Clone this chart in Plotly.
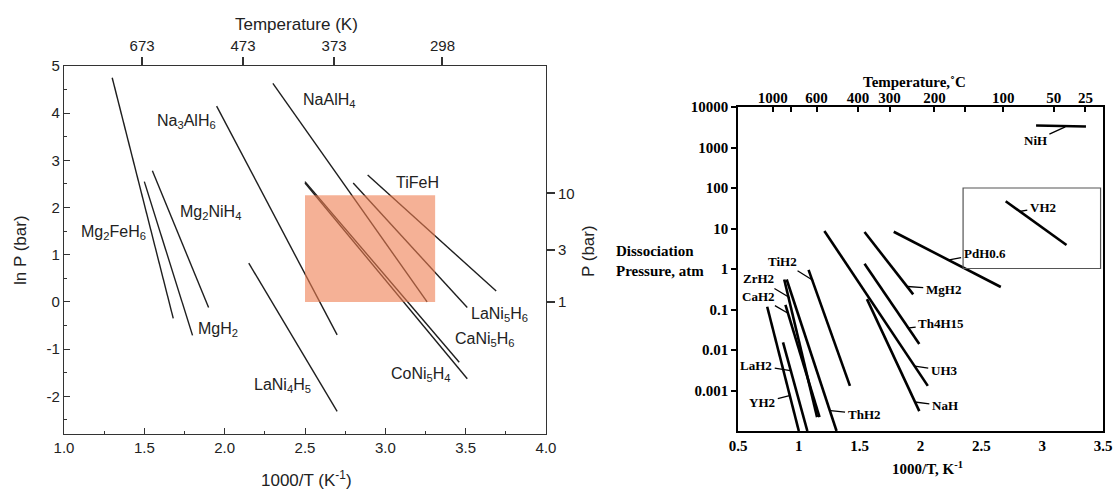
import numpy as np
import plotly.graph_objects as go

# ---------------- Left panel data: ln P (bar) vs 1000/T ----------------
left_names = ["Mg<sub>2</sub>FeH<sub>6</sub>", "MgH<sub>2</sub>", "Mg<sub>2</sub>NiH<sub>4</sub>",
              "Na<sub>3</sub>AlH<sub>6</sub>", "LaNi<sub>4</sub>H<sub>5</sub>", "NaAlH<sub>4</sub>",
              "CaNi<sub>5</sub>H<sub>6</sub>", "CoNi<sub>5</sub>H<sub>4</sub>", "LaNi<sub>5</sub>H<sub>6</sub>", "TiFeH"]
left_x_start = [1.30, 1.50, 1.55, 1.95, 2.15, 2.30, 2.50, 2.50, 2.80, 2.89]
left_y_start = [4.75, 2.55, 2.78, 4.15, 0.82, 4.63, 2.55, 2.52, 2.52, 2.69]
left_x_end = [1.68, 1.80, 1.90, 2.70, 2.70, 3.26, 3.46, 3.51, 3.51, 3.69]
left_y_end = [-0.35, -0.71, -0.12, -0.70, -2.32, 0.00, -1.28, -1.63, -0.12, 0.23]
# label positions (same order as names)
left_label_x = [1.31, 1.96, 1.91, 1.76, 2.36, 2.65, 3.62, 3.22, 3.71, 3.20]
left_label_y = [1.47, -0.58, 1.89, 3.83, -1.78, 4.26, -0.79, -1.53, -0.26, 2.54]
window_x = [2.50, 3.31]      # target operating window (1000/T)
window_y = [0.00, 2.26]      # ln P (1 - 10 bar)
left_top_temps = [673, 473, 373, 298]          # K
left_right_pressures = [1, 3, 10]              # bar
left_yticks = [5, 4, 3, 2, 1, 0, -1, -2]
left_xticks = [1.0, 1.5, 2.0, 2.5, 3.0, 3.5, 4.0]

# ---------------- Right panel data: dissociation pressure (atm) vs 1000/T ----------------
right_names = ["NiH", "VH2", "PdH0.6", "UH3", "MgH2", "Th4H15", "NaH", "TiH2",
               "ZrH2", "CaH2", "ThH2", "LaH2", "YH2"]
right_x_start = [2.95, 2.70, 1.78, 1.21, 1.54, 1.54, 1.56, 1.08, 0.88, 0.89, 0.90, 0.87, 0.74]
right_p_start = [3500, 47, 8.3, 8.7, 8.2, 1.34, 0.18, 0.95, 0.55, 0.13, 0.55, 0.0155, 0.117]
right_x_end = [3.36, 3.20, 2.66, 2.06, 1.94, 1.99, 1.99, 1.42, 1.15, 1.17, 1.31, 1.07, 1.00]
right_p_end = [3300, 3.9, 0.36, 0.0013, 0.236, 0.014, 0.00031, 0.0013, 0.00022, 0.00022, 0.0001, 0.0001, 0.0001]
# label text position and leader tip (x, P)
right_label_x = [2.945, 3.005, 2.527, 2.195, 2.187, 2.17, 2.20, 0.863, 0.67, 0.67, 1.536, 0.65, 0.70]
right_label_p = [1480, 33.5, 2.44, 0.0031, 0.316, 0.0447, 0.00042, 1.55, 0.569, 0.214, 0.00026, 0.0042, 0.0005]
right_tip_x = [3.19, 2.813, 2.236, 1.953, 1.893, 1.907, 1.953, 1.118, 0.926, 0.904, 1.261, 0.931, 0.931]
right_tip_p = [3240, 26.3, 1.68, 0.004, 0.37, 0.035, 0.00052, 0.52, 0.195, 0.083, 0.00032, 0.0031, 0.00076]
inset_x = [2.35, 3.48]
inset_p = [1.03, 100]
right_top_temps_c = [1000, 600, 400, 300, 200, 100, 50, 25]
right_top_minor_c = [800, 150]
right_yticks = [10000, 1000, 100, 10, 1, 0.1, 0.01, 0.001]
right_ytick_text = ["10000", "1000", "100", "10", "1", "0.1", "0.01", "0.001"]
right_xticks = [0.5, 1, 1.5, 2, 2.5, 3, 3.5]

# ---------------- Figure ----------------
W, H = 1117, 492
def px_x(p):
    return p / W
def px_y(p):
    return 1 - p / H

sans = "Liberation Sans, Arial, sans-serif"
serif = "Liberation Serif, Times New Roman, serif"

fig = go.Figure()

for i in range(len(left_names)):
    fig.add_trace(go.Scatter(
        x=[left_x_start[i], left_x_end[i]], y=[left_y_start[i], left_y_end[i]],
        mode="lines", line=dict(color="#1e1e1e", width=1.4),
        xaxis="x", yaxis="y", showlegend=False, hoverinfo="skip"))

# operating window (semi-transparent)
fig.add_trace(go.Scatter(
    x=[window_x[0], window_x[1], window_x[1], window_x[0], window_x[0]],
    y=[window_y[0], window_y[0], window_y[1], window_y[1], window_y[0]],
    mode="lines", fill="toself", line=dict(width=0),
    fillcolor="rgba(238,125,80,0.6)",
    xaxis="x", yaxis="y", showlegend=False, hoverinfo="skip"))

# invisible traces so the secondary (top / right) axes are drawn
fig.add_trace(go.Scatter(x=[1, 4], y=[-2.8, 5], mode="markers", marker=dict(opacity=0),
                         xaxis="x2", yaxis="y2", showlegend=False, hoverinfo="skip"))

for i in range(len(right_names)):
    fig.add_trace(go.Scatter(
        x=[right_x_start[i], right_x_end[i]], y=[right_p_start[i], right_p_end[i]],
        mode="lines", line=dict(color="black", width=2.6),
        xaxis="x3", yaxis="y3", showlegend=False, hoverinfo="skip"))

# inset box
fig.add_trace(go.Scatter(
    x=[inset_x[0], inset_x[1], inset_x[1], inset_x[0], inset_x[0]],
    y=[inset_p[0], inset_p[0], inset_p[1], inset_p[1], inset_p[0]],
    mode="lines", line=dict(color="#555", width=1.2),
    xaxis="x3", yaxis="y3", showlegend=False, hoverinfo="skip"))

fig.add_trace(go.Scatter(x=[0.5, 3.5], y=[1, 1], mode="markers", marker=dict(opacity=0),
                         xaxis="x4", yaxis="y3", showlegend=False, hoverinfo="skip"))

dom_lx = [px_x(64), px_x(546)]
dom_ly = [px_y(434), px_y(66)]
dom_rx = [px_x(738), px_x(1103)]
dom_ry = [px_y(431), px_y(107)]

axis_col = "#333333"
sans_tick = dict(family=sans, size=15, color="#222")
serif_tick = dict(family=serif, size=15, color="black", weight="bold")
fig.update_layout(
    width=W, height=H, margin=dict(l=0, r=0, t=0, b=0, autoexpand=False),
    paper_bgcolor="white", plot_bgcolor="white",
    xaxis=dict(domain=dom_lx, anchor="y", range=[1, 4], showgrid=False, zeroline=False,
               tickvals=left_xticks, ticktext=[f"{v:.1f}" for v in left_xticks],
               ticks="inside", ticklen=6, tickwidth=1.3, tickcolor=axis_col,
               minor=dict(ticks="inside", ticklen=3, dtick=0.25, tick0=1, tickcolor=axis_col),
               showline=True, linecolor=axis_col, linewidth=1.4, mirror=True,
               tickfont=sans_tick),
    yaxis=dict(domain=dom_ly, anchor="x", range=[-2.8, 5], showgrid=False, zeroline=False,
               tickvals=left_yticks, ticktext=[str(v) for v in left_yticks],
               ticks="inside", ticklen=6, tickwidth=1.3, tickcolor=axis_col,
               minor=dict(ticks="inside", ticklen=3, dtick=0.5, tick0=0, tickcolor=axis_col),
               showline=True, linecolor=axis_col, linewidth=1.4, mirror=True,
               tickfont=sans_tick),
    xaxis2=dict(overlaying="x", side="top", anchor="y", range=[1, 4], showgrid=False, zeroline=False,
                tickvals=[1000 / t for t in left_top_temps], ticktext=[str(t) for t in left_top_temps],
                ticks="outside", ticklen=8, tickwidth=1.5, tickcolor=axis_col, showline=False,
                tickfont=sans_tick),
    yaxis2=dict(overlaying="y", side="right", anchor="x", range=[-2.8, 5], showgrid=False, zeroline=False,
                tickvals=[np.log(p) for p in left_right_pressures], ticktext=[str(p) for p in left_right_pressures],
                ticks="outside", ticklen=8, tickwidth=1.5, tickcolor=axis_col, showline=False,
                tickfont=sans_tick),
    xaxis3=dict(domain=dom_rx, anchor="y3", range=[0.5, 3.5], showgrid=False, zeroline=False,
                tickvals=right_xticks, ticktext=[str(v) for v in right_xticks], ticks="",
                showline=True, linecolor="black", linewidth=1.5, mirror=True,
                tickfont=serif_tick),
    yaxis3=dict(domain=dom_ry, anchor="x3", type="log", range=[-4, 4], showgrid=False, zeroline=False,
                tickvals=right_yticks, ticktext=right_ytick_text,
                ticks="outside", ticklen=5, tickwidth=1.5, tickcolor="black",
                showline=True, linecolor="black", linewidth=1.5, mirror=True,
                tickfont=serif_tick),
    xaxis4=dict(overlaying="x3", side="top", anchor="y3", range=[0.5, 3.5], showgrid=False, zeroline=False,
                tickvals=[1000 / (t + 273) for t in right_top_temps_c] + [1000 / (t + 273) for t in right_top_minor_c],
                ticktext=[str(t) for t in right_top_temps_c] + ["" for _ in right_top_minor_c],
                ticks="inside", ticklen=5, tickwidth=1.5, tickcolor="black", showline=False,
                tickfont=serif_tick),
)

ann = []
for i, name in enumerate(left_names):
    ann.append(dict(x=left_label_x[i], y=left_label_y[i], xref="x", yref="y", text=name, showarrow=False,
                    xanchor="center", yanchor="middle",
                    font=dict(family=sans, size=16, color="#222")))

for i, name in enumerate(right_names):
    ann.append(dict(x=right_tip_x[i], y=np.log10(right_tip_p[i]), xref="x3", yref="y3",
                    ax=right_label_x[i], ay=np.log10(right_label_p[i]), axref="x3", ayref="y3",
                    text=name, showarrow=True, arrowhead=0, arrowwidth=1.3, arrowcolor="black",
                    standoff=0, startstandoff=1,
                    font=dict(family=serif, size=13, color="black", weight="bold")))

def title_ann(x, y, text, font, **kw):
    d = dict(x=px_x(x), y=px_y(y), xref="paper", yref="paper", text=text, showarrow=False,
             xanchor="center", yanchor="middle", font=font)
    d.update(kw)
    return d

sans_title = dict(family=sans, size=17, color="#222")
serif_title = dict(family=serif, size=15, color="black", weight="bold")
ann += [
    title_ann(296, 24, "Temperature (K)", sans_title),
    title_ann(306, 479, "1000/T (K<sup>-1</sup>)", sans_title),
    title_ann(20, 250, "ln P (bar)", sans_title, textangle=-90),
    title_ann(588, 251, "P (bar)", sans_title, textangle=-90),
    title_ann(914, 82, "Temperature,˚C", serif_title),
    title_ann(927, 468, "1000/T, K<sup>-1</sup>", serif_title),
    title_ann(614, 261, "Dissociation<br>Pressure, atm", serif_title, xanchor="left", align="left"),
]
fig.update_layout(annotations=ann)

fig.write_html("out.html")
